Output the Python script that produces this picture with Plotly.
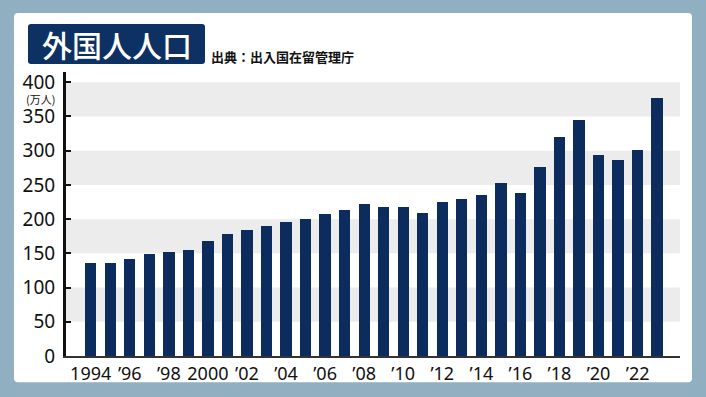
import plotly.graph_objects as go

years = list(range(1994, 2024))
values = [135.3, 135.5, 141.2, 148.5, 151.8, 155.2, 167.4, 177.6, 183.9, 190.7,
          196.1, 200.5, 207.3, 213.6, 221.4, 218.0, 218.0, 208.3, 224.4, 228.7,
          236.0, 253.5, 237.5, 276.9, 320.7, 345.5, 294.4, 285.7, 301.7, 376.6]
tick_years = [1994, 1996, 1998, 2000, 2002, 2004, 2006, 2008, 2010, 2012, 2014, 2016, 2018, 2020, 2022]
tick_labels = ["1994", "’96", "’98", "2000", "’02", "’04", "’06", "’08", "’10", "’12",
               "’14", "’16", "’18", "’20", "’22"]
y_ticks = [0, 50, 100, 150, 200, 250, 300, 350, 400]
bands = [(50, 100), (150, 200), (250, 300), (350, 400)]
title = "外国人人口"
source = "出典：出入国在留管理庁"
unit = "(万人)"

W, H = 706, 397
L, R, T, B = 66, 680, 72, 355.7


def px(x):
    return (x - L) / (R - L)


def py(y):
    return (B - y) / (B - T)


def rounded(xa, ya, xb, yb, r):
    # pixel coordinates: (xa, ya) top-left, (xb, yb) bottom-right
    x0, x1, y0, y1 = px(xa), px(xb), py(ya), py(yb)
    rx = r / (R - L)
    ry = r / (B - T)
    return (f"M {x0+rx},{y0} L {x1-rx},{y0} Q {x1},{y0} {x1},{y0-ry} "
            f"L {x1},{y1+ry} Q {x1},{y1} {x1-rx},{y1} L {x0+rx},{y1} "
            f"Q {x0},{y1} {x0},{y1+ry} L {x0},{y0-ry} Q {x0},{y0} {x0+rx},{y0} Z")


NAVY = "#0b2c5c"

fig = go.Figure()
fig.add_trace(go.Bar(x=years, y=values, marker=dict(color=NAVY, line=dict(width=0)),
                     width=0.58, hoverinfo="x+y"))

shapes = []
shapes.append(dict(type="path", path=rounded(14, 13, 692, 382, 4), xref="paper", yref="paper",
                   fillcolor="white", line=dict(width=0), layer="below"))
for a, b in bands:
    shapes.append(dict(type="rect", xref="paper", yref="y", x0=0, x1=1, y0=a, y1=b,
                       fillcolor="#ececec", line=dict(width=0), layer="below"))
shapes.append(dict(type="path", path=rounded(28, 24, 205, 64, 3), xref="paper", yref="paper",
                   fillcolor="#0d3163", line=dict(width=0)))

annotations = [
    dict(text=title, xref="paper", yref="paper", x=px(116.5), y=py(44.5),
         xanchor="center", yanchor="middle", showarrow=False,
         font=dict(family="Noto Sans CJK JP", size=30, color="white", weight=500)),
    dict(text=f"<b>{source}</b>", xref="paper", yref="paper", x=px(209), y=py(57),
         xanchor="left", yanchor="middle", showarrow=False,
         font=dict(family="Noto Sans CJK JP", size=13, color="#111111")),
    dict(text=unit, xref="paper", yref="paper", x=px(57), y=py(99),
         xanchor="right", yanchor="middle", showarrow=False,
         font=dict(family="Noto Sans CJK JP", size=11, color="#111111")),
]

fig.update_layout(
    width=W, height=H,
    margin=dict(l=L, r=W - R, t=T, b=H - B),
    paper_bgcolor="#90afc1",
    plot_bgcolor="rgba(0,0,0,0)",
    showlegend=False,
    bargap=0,
    shapes=shapes,
    annotations=annotations,
    xaxis=dict(range=[1992.735, 2024.17], tickmode="array", tickvals=tick_years,
               ticktext=tick_labels, showgrid=False, zeroline=False,
               showline=True, linecolor="#333333", linewidth=2, ticks="",
               tickfont=dict(family="Noto Sans", size=18, color="#111111"),
               fixedrange=True),
    yaxis=dict(range=[0, 415], tickmode="array", tickvals=y_ticks,
               showgrid=False, zeroline=False, showline=True, linecolor="#111111",
               linewidth=3, ticks="inside", ticklen=5, tickwidth=2, tickcolor="#111111",
               ticklabelstandoff=4,
               tickfont=dict(family="Noto Sans", size=19, color="#111111"),
               fixedrange=True),
)

fig.write_html("out.html", config={"displayModeBar": False},
               post_script="document.body.style.margin='0';")
